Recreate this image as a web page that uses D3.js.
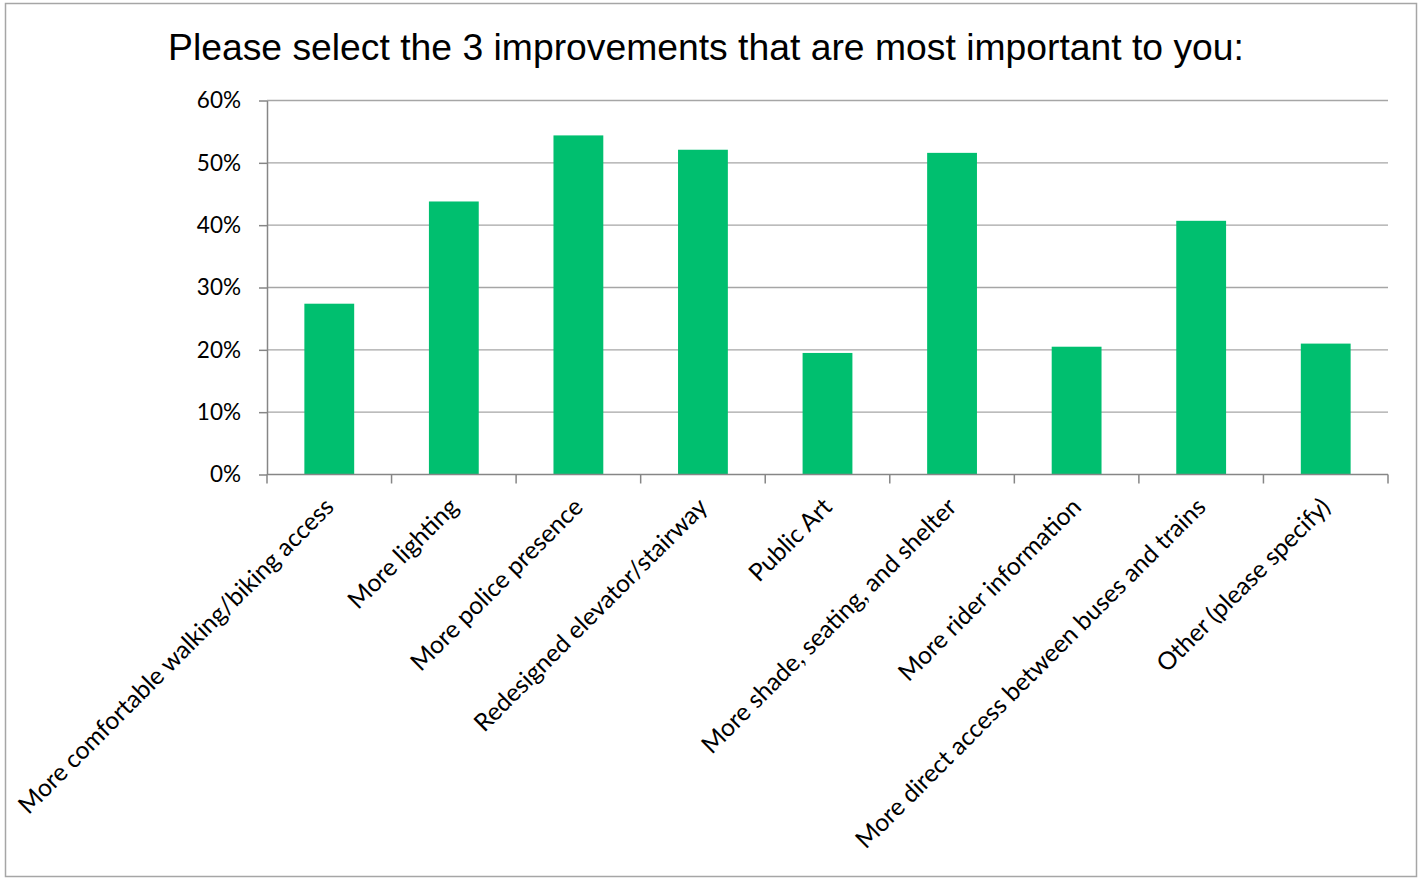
<!DOCTYPE html>
<html>
<head>
<meta charset="utf-8">
<script src="https://cdn.jsdelivr.net/npm/d3@7"></script>
<style>
  html, body { margin: 0; padding: 0; background: #ffffff; }
  svg { display: block; }
</style>
</head>
<body>
<svg id="chart" width="1424" height="879"></svg>
<script>
const title = "Please select the 3 improvements that are most important to you:";
const categories = [
  "More comfortable walking/biking access",
  "More lighting",
  "More police presence",
  "Redesigned elevator/stairway",
  "Public Art",
  "More shade, seating, and shelter",
  "More rider information",
  "More direct access between buses and trains",
  "Other (please specify)"
];
const values = [27.4, 43.8, 54.4, 52.1, 19.5, 51.6, 20.5, 40.7, 21.0];
const yTicks = [0, 10, 20, 30, 40, 50, 60];
const yTickLabels = ["0%", "10%", "20%", "30%", "40%", "50%", "60%"];

const svg = d3.select("#chart");
const plot = { left: 267, right: 1388, top: 100.5, bottom: 474.5 };

// chart border
svg.append("rect")
  .attr("x", 5.5).attr("y", 3.5)
  .attr("width", 1411).attr("height", 873)
  .attr("fill", "#ffffff")
  .attr("stroke", "#a6a6a6").attr("stroke-width", 1.5);

const x = d3.scaleBand()
  .domain(categories)
  .range([plot.left, plot.right])
  .paddingInner(0.6)
  .paddingOuter(0.3);

const y = d3.scaleLinear()
  .domain([0, 60])
  .range([plot.bottom, plot.top]);

// gridlines
svg.append("g").selectAll("line")
  .data(yTicks.filter(d => d > 0))
  .join("line")
  .attr("x1", plot.left).attr("x2", plot.right)
  .attr("y1", d => y(d)).attr("y2", d => y(d))
  .attr("stroke", "#a6a6a6").attr("stroke-width", 1.3);

// bars
svg.append("g").selectAll("rect")
  .data(values)
  .join("rect")
  .attr("x", (d, i) => x(categories[i]))
  .attr("width", x.bandwidth())
  .attr("y", d => y(d))
  .attr("height", d => y(0) - y(d))
  .attr("fill", "#00bf6f");

// y axis
const yAxis = d3.axisLeft(y)
  .tickValues(yTicks)
  .tickFormat((d, i) => yTickLabels[i])
  .tickSize(8)
  .tickSizeOuter(0)
  .tickPadding(18);
const gy = svg.append("g")
  .attr("transform", `translate(${plot.left},0)`)
  .call(yAxis);
gy.select(".domain").attr("stroke", "#868686").attr("stroke-width", 1.5);
gy.selectAll(".tick line").attr("stroke", "#868686").attr("stroke-width", 1.5);
gy.selectAll(".tick text")
  .attr("fill", "#000000")
  .style("font-family", "Lato, 'Open Sans', sans-serif")
  .style("font-size", "22.5px");

// x axis baseline
svg.append("line")
  .attr("x1", plot.left).attr("x2", plot.right)
  .attr("y1", y(0)).attr("y2", y(0))
  .attr("stroke", "#868686").attr("stroke-width", 1.5);

// x ticks at category boundaries
const boundaries = d3.range(categories.length + 1).map(i => plot.left + i * x.step());
svg.append("g").selectAll("line")
  .data(boundaries)
  .join("line")
  .attr("x1", d => d).attr("x2", d => d)
  .attr("y1", y(0)).attr("y2", y(0) + 9)
  .attr("stroke", "#868686").attr("stroke-width", 1.5);

// category labels
svg.append("g").selectAll("text")
  .data(categories)
  .join("text")
  .attr("transform", d => `translate(${x(d) + x.bandwidth() / 2 + 6},${y(0) + 34}) rotate(-45)`)
  .attr("text-anchor", "end")
  .style("font-family", "Lato, 'Open Sans', sans-serif")
  .style("font-size", "24.6px")
  .attr("fill", "#000000")
  .text(d => d);

// title
svg.append("text")
  .attr("x", 706).attr("y", 60)
  .attr("text-anchor", "middle")
  .style("font-family", "'Liberation Sans', Arial, sans-serif")
  .style("font-size", "37.3px")
  .attr("fill", "#000000")
  .text(title);
</script>
</body>
</html>
